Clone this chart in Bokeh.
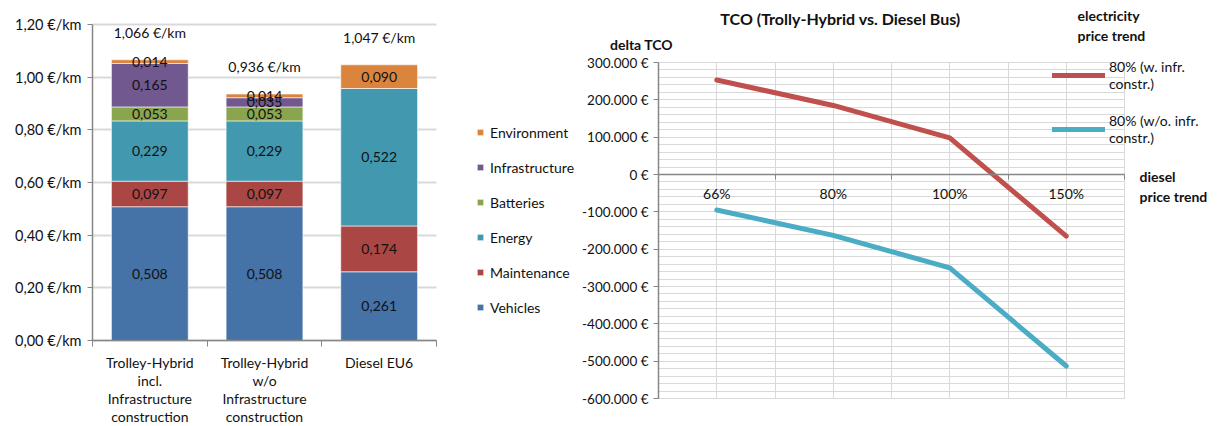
from bokeh.plotting import figure
from bokeh.layouts import row
from bokeh.models import (Range1d, FixedTicker, CustomJSTickFormatter, Legend, LegendItem,
                          Label, SingleIntervalTicker, ColumnDataSource, Grid)
from bokeh.embed import file_html
from bokeh.resources import INLINE
from bokeh.core.properties import value

FONT = "Lato"

# ---------------- left chart data ----------------
vehicle_types = ["Trolley-Hybrid\nincl.\nInfrastructure\nconstruction",
                 "Trolley-Hybrid\nw/o\nInfrastructure\nconstruction",
                 "Diesel EU6"]
cost_components = ["Vehicles", "Maintenance", "Energy", "Batteries", "Infrastructure", "Environment"]
vehicles = [0.508, 0.508, 0.261]
maintenance = [0.097, 0.097, 0.174]
energy = [0.229, 0.229, 0.522]
batteries = [0.053, 0.053, 0.0]
infrastructure = [0.165, 0.035, 0.0]
environment = [0.014, 0.014, 0.090]
total_label_y = [1.17, 1.04, 1.15]
left_ticks = [0.0, 0.2, 0.4, 0.6, 0.8, 1.0, 1.2]

# ---------------- right chart data ----------------
diesel_price_trend = ["66%", "80%", "100%", "150%"]
tco_with_infra = [253000, 185000, 98000, -165000]
tco_without_infra = [-95000, -163000, -250000, -513000]
series_names = ["80% (w. infr.\nconstr.)", "80% (w/o. infr.\nconstr.)"]
right_lo, right_hi = -600000, 300000

bar_colors = ["#4572A7", "#AA4643", "#4198AF", "#89A54E", "#71588F", "#DB843D"]
AXIS = "#868686"
GRID = "#D9D9D9"
TXT = "#111111"
HAS_CB = "cross_bounds" in Grid.properties()

# ---------------- layout (page pixels) ----------------
H = 426
FRAME_TOP, FRAME_BOT = 0, H
# left chart
L_FIG_X0, L_FIG_X1 = 0, 575
L_AX_X0, L_AX_X1 = 92, 436
L_Y_TOP, L_Y_ZERO = 24, 340
# right chart
R_FIG_X0, R_FIG_X1 = 575, 1219
R_AX_X0, R_AX_X1 = 658, 1124
R_Y_TOP, R_Y_BOT = 62, 398


def de(v, d=3):
    return f"{v:.{d}f}".replace(".", ",")


def grid_segments(p, dim, ticks, lo, hi, color, width):
    if dim == 1:
        p.segment(x0=[lo] * len(ticks), x1=[hi] * len(ticks), y0=ticks, y1=ticks,
                  line_color=color, line_width=width, level="underlay")
    else:
        p.segment(y0=[lo] * len(ticks), y1=[hi] * len(ticks), x0=ticks, x1=ticks,
                  line_color=color, line_width=width, level="underlay")


# ================= LEFT =================
nL = len(vehicle_types)
series = [vehicles, maintenance, energy, batteries, infrastructure, environment]
xpos = [i + 0.5 for i in range(nL)]
data = dict(x=xpos)
for name, vals in zip(cost_components, series):
    data[name] = vals
src = ColumnDataSource(data)

pxu_x = (L_AX_X1 - L_AX_X0) / nL
pxu_y = (L_Y_ZERO - L_Y_TOP) / left_ticks[-1]
p1 = figure(width=L_FIG_X1 - L_FIG_X0, height=H,
            x_range=Range1d(-(L_AX_X0 - L_FIG_X0) / pxu_x, nL + (L_FIG_X1 - L_AX_X1) / pxu_x),
            y_range=Range1d(-(FRAME_BOT - L_Y_ZERO) / pxu_y,
                            left_ticks[-1] + (L_Y_TOP - FRAME_TOP) / pxu_y),
            output_backend="svg", toolbar_location=None,
            min_border_left=0, min_border_right=0, min_border_top=0, min_border_bottom=0)
p1.outline_line_color = None

rs = p1.vbar_stack(cost_components, x="x", width=0.67, color=bar_colors, source=src,
                   line_color="white", line_width=0.6)

lab_x, lab_y, lab_t = [], [], []
for i in range(nL):
    base = 0.0
    for vals in series:
        v = vals[i]
        if v > 0:
            lab_x.append(xpos[i])
            lab_y.append(base + v / 2)
            lab_t.append(de(v))
        base += v
p1.text(x=lab_x, y=lab_y, text=lab_t, text_align="center", text_baseline="middle",
        text_font=value(FONT), text_font_size="14px", text_color=TXT)

totals = [sum(vals[i] for vals in series) for i in range(nL)]
p1.text(x=xpos, y=total_label_y, text=[de(t) + " €/km" for t in totals],
        text_align="center", text_baseline="middle",
        text_font=value(FONT), text_font_size="14px", text_color=TXT)

yt1 = FixedTicker(ticks=left_ticks)
p1.yaxis.ticker = yt1
p1.yaxis.formatter = CustomJSTickFormatter(code="return tick.toFixed(2).replace('.', ',') + ' €/km';")
p1.yaxis.fixed_location = 0
p1.yaxis.bounds = (left_ticks[0], left_ticks[-1])
p1.xaxis.ticker = FixedTicker(ticks=xpos, minor_ticks=list(range(nL + 1)))
p1.xaxis.formatter = CustomJSTickFormatter(args=dict(names=vehicle_types),
                                           code="return names[Math.floor(tick)];")
p1.xaxis.fixed_location = 0
p1.xaxis.bounds = (0, nL)
for ax in (p1.xaxis, p1.yaxis):
    ax.axis_line_color = AXIS
    ax.axis_line_width = 1.5
    ax.major_tick_line_color = AXIS
    ax.major_tick_in = 0
    ax.major_tick_out = 5
    ax.major_label_text_font = FONT
    ax.major_label_text_font_size = "14.5px"
    ax.major_label_text_color = TXT
p1.yaxis.minor_tick_line_color = None
p1.yaxis.major_label_standoff = 6
p1.xaxis.major_tick_line_color = None
p1.xaxis.major_tick_out = 0
p1.xaxis.minor_tick_line_color = AXIS
p1.xaxis.minor_tick_in = 0
p1.xaxis.minor_tick_out = 6
p1.xaxis.major_label_standoff = 7
p1.xaxis.major_label_text_font_size = "14px"
p1.xaxis.major_label_text_line_height = 1.07
p1.xgrid.visible = False
if HAS_CB:
    p1.ygrid.ticker = yt1
    p1.ygrid.bounds = (left_ticks[0], left_ticks[-1])
    p1.ygrid.cross_bounds = (0, nL)
    p1.ygrid.grid_line_color = GRID
    p1.ygrid.grid_line_width = 2
else:
    p1.ygrid.visible = False
    grid_segments(p1, 1, left_ticks[1:], 0, nL, GRID, 2)

items1 = [LegendItem(label=n, renderers=[r]) for n, r in zip(cost_components, rs)][::-1]
leg1 = Legend(items=items1, location=(476 - L_FIG_X0, FRAME_BOT - 317), glyph_width=8, glyph_height=8,
              label_standoff=6, spacing=15, label_height=20, padding=0, margin=0,
              background_fill_alpha=0, border_line_color=None,
              label_text_font=FONT, label_text_font_size="14px", label_text_color=TXT)
p1.add_layout(leg1)

# ================= RIGHT =================
n = len(diesel_price_trend)
xs = [i + 0.5 for i in range(n)]
rpx_x = (R_AX_X1 - R_AX_X0) / n
rpx_y = (R_Y_BOT - R_Y_TOP) / (right_hi - right_lo)
p2 = figure(width=R_FIG_X1 - R_FIG_X0, height=H,
            x_range=Range1d(-(R_AX_X0 - R_FIG_X0) / rpx_x, n + (R_FIG_X1 - R_AX_X1) / rpx_x),
            y_range=Range1d(right_lo - (FRAME_BOT - R_Y_BOT) / rpx_y,
                            right_hi + (R_Y_TOP - FRAME_TOP) / rpx_y),
            output_backend="svg", toolbar_location=None,
            min_border_left=0, min_border_right=0, min_border_top=0, min_border_bottom=0)
p2.outline_line_color = None

yt2 = SingleIntervalTicker(interval=100000, num_minor_ticks=5)
p2.yaxis.ticker = yt2
p2.yaxis.formatter = CustomJSTickFormatter(code="""
var a = Math.abs(Math.round(tick));
var s = String(a).replace(/\\B(?=(\\d{3})+(?!\\d))/g, '.');
return (tick < 0 ? '-' : '') + s + ' €';
""")
p2.yaxis.fixed_location = 0
p2.yaxis.bounds = (right_lo, right_hi)
p2.xaxis.ticker = FixedTicker(ticks=xs, minor_ticks=list(range(n + 1)))
p2.xaxis.formatter = CustomJSTickFormatter(args=dict(names=diesel_price_trend),
                                           code="return names[Math.floor(tick)];")
p2.xaxis.fixed_location = 0
p2.xaxis.bounds = (0, n)
for ax in (p2.xaxis, p2.yaxis):
    ax.axis_line_color = AXIS
    ax.axis_line_width = 1.5
    ax.major_tick_line_color = AXIS
    ax.major_tick_in = 0
    ax.major_tick_out = 5
    ax.major_label_text_font = FONT
    ax.major_label_text_font_size = "14px"
    ax.major_label_text_color = TXT
p2.yaxis.minor_tick_line_color = None
p2.yaxis.major_label_standoff = 5
p2.yaxis.major_label_text_font_size = "13.5px"
p2.xaxis.major_tick_line_color = None
p2.xaxis.major_tick_out = 0
p2.xaxis.minor_tick_line_color = AXIS
p2.xaxis.minor_tick_in = 0
p2.xaxis.minor_tick_out = 5
p2.xaxis.major_label_standoff = 5

xgrid_ticks = [k / 2 for k in range(1, 2 * n + 1)]
minor_y = [v for v in range(right_lo, right_hi + 1, 20000)]
if HAS_CB:
    p2.ygrid.ticker = yt2
    p2.ygrid.bounds = (right_lo, right_hi)
    p2.ygrid.cross_bounds = (0, n)
    p2.ygrid.grid_line_color = GRID
    p2.ygrid.minor_grid_line_color = GRID
    p2.xgrid.ticker = FixedTicker(ticks=xgrid_ticks)
    p2.xgrid.cross_bounds = (right_lo, right_hi)
    p2.xgrid.grid_line_color = GRID
else:
    p2.ygrid.visible = False
    p2.xgrid.visible = False
    grid_segments(p2, 1, minor_y, 0, n, GRID, 1)
    grid_segments(p2, 0, xgrid_ticks, right_lo, right_hi, GRID, 1)

r_red = p2.line(xs, tco_with_infra, line_color="#C0504D", line_width=5,
                line_cap="round", line_join="round")
r_blue = p2.line(xs, tco_without_infra, line_color="#4BACC6", line_width=5,
                 line_cap="round", line_join="round")

leg2 = Legend(items=[LegendItem(label=series_names[0], renderers=[r_red]),
                     LegendItem(label=series_names[1], renderers=[r_blue])],
              location=(1052 - R_FIG_X0, FRAME_BOT - 146), glyph_width=53, glyph_height=10,
              label_standoff=4, spacing=20, padding=0, margin=0,
              background_fill_alpha=0, border_line_color=None,
              label_text_font=FONT, label_text_font_size="14px", label_text_color=TXT,
              label_text_line_height=1.3)
p2.add_layout(leg2)


def lab(text, px, py, size="14px", align="left"):
    p2.add_layout(Label(x=px - R_FIG_X0, y=FRAME_BOT - py, x_units="screen", y_units="screen",
                        text=text, text_align=align, text_baseline="middle", text_font=FONT,
                        text_font_size=size, text_font_style="bold", text_color=TXT,
                        text_line_height=1.17))


lab("TCO (Trolly-Hybrid vs. Diesel Bus)", 840, 18, "16px", "center")
lab("delta TCO", 641, 44, "14px", "center")
lab("electricity\nprice trend", 1077, 25)
lab("diesel\nprice trend", 1139, 186)

layout = row(p1, p2)
with open("out.html", "w", encoding="utf-8") as f:
    f.write(file_html(layout, INLINE))
